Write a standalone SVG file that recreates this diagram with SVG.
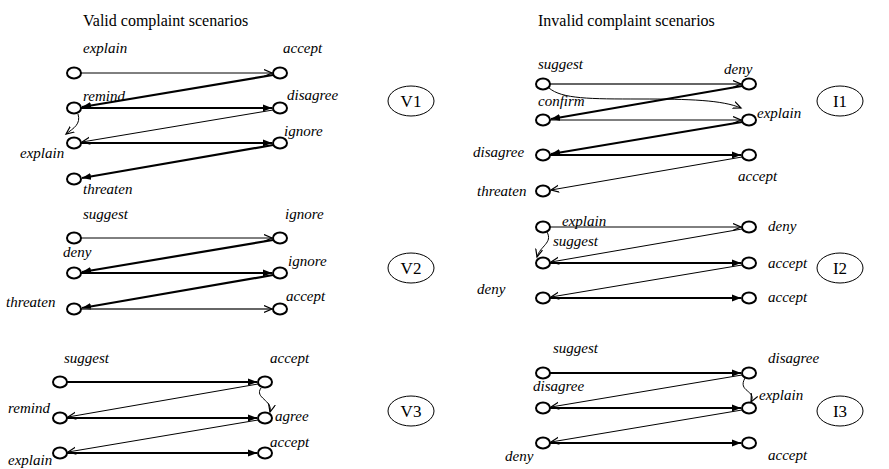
<svg xmlns="http://www.w3.org/2000/svg" width="889" height="469" viewBox="0 0 889 469">
<style>
.t{font-family:"Liberation Serif","Times New Roman",serif;font-size:16px;fill:#000}
.e{font-family:"Liberation Serif","Times New Roman",serif;font-size:17px;fill:#000}
.l{font-family:"Liberation Serif","Times New Roman",serif;font-size:15px;font-style:italic;fill:#000}
.n{fill:#fff;stroke:#000;stroke-width:2}
.el{fill:#fff;stroke:#000;stroke-width:1}
.th{stroke:#000;stroke-width:1;fill:none;marker-end:url(#op)}
.md{stroke:#333;stroke-width:1.5;fill:none;marker-end:url(#op)}
.tk{stroke:#000;stroke-width:2.2;fill:none;marker-end:url(#fi)}
.cv{stroke:#000;stroke-width:1;fill:none;marker-end:url(#op)}
</style>
<defs>
<marker id="op" markerUnits="userSpaceOnUse" markerWidth="10" markerHeight="10" refX="8" refY="4" orient="auto"><path d="M0,0.5 L8,4 L0,7.5" fill="none" stroke="#000" stroke-width="1.2"/></marker>
<marker id="fi" markerUnits="userSpaceOnUse" markerWidth="11" markerHeight="10" refX="9" refY="4" orient="auto"><path d="M0,0.5 L9,4 L0,7.5 z" fill="#000"/></marker>
</defs>
<rect width="889" height="469" fill="#fff"/>
<text class="t" x="83" y="26">Valid complaint scenarios</text>
<text class="t" x="538" y="26">Invalid complaint scenarios</text>

<g id="connectors">
<!-- V1 -->
<line class="th" x1="81" y1="73" x2="272" y2="73"/>
<line class="tk" x1="273" y1="75" x2="82" y2="107"/>
<line class="tk" x1="81" y1="108" x2="272" y2="108"/>
<line class="th" x1="273" y1="110" x2="82" y2="142"/>
<line class="tk" x1="81" y1="143" x2="272" y2="143"/>
<line class="tk" x1="273" y1="145" x2="82" y2="178"/>
<path class="cv" d="M78,114 C81,124 74,128 66,134"/>
<!-- V2 -->
<line class="th" x1="81" y1="238" x2="272" y2="238"/>
<line class="tk" x1="273" y1="240" x2="82" y2="272"/>
<line class="tk" x1="81" y1="273" x2="272" y2="273"/>
<line class="tk" x1="273" y1="275" x2="82" y2="308"/>
<line class="md" x1="81" y1="309" x2="272" y2="309"/>
<!-- V3 -->
<line class="tk" x1="67" y1="382" x2="257" y2="382"/>
<line class="th" x1="258" y1="384" x2="68" y2="417"/>
<line class="tk" x1="67" y1="418" x2="257" y2="418"/>
<line class="th" x1="258" y1="420" x2="68" y2="452"/>
<line class="tk" x1="67" y1="453" x2="257" y2="453"/>
<path class="cv" d="M261,388 C254,398 273,400 270,412"/>
<!-- I1 -->
<line class="md" x1="550" y1="84" x2="741" y2="84"/>
<path class="cv" d="M549,88 C562,99 590,99 640,99 C690,99 722,100 741,108"/>
<line class="tk" x1="742" y1="86" x2="551" y2="119"/>
<line class="th" x1="550" y1="120" x2="741" y2="120"/>
<line class="tk" x1="742" y1="122" x2="551" y2="154"/>
<line class="tk" x1="550" y1="155" x2="741" y2="155"/>
<line class="th" x1="742" y1="157" x2="551" y2="190"/>
<!-- I2 -->
<line class="th" x1="550" y1="227" x2="741" y2="227"/>
<path class="cv" d="M547,232 C553,243 540,246 537,257"/>
<line class="th" x1="742" y1="229" x2="551" y2="262"/>
<line class="tk" x1="550" y1="263" x2="741" y2="263"/>
<line class="th" x1="742" y1="265" x2="551" y2="297"/>
<line class="tk" x1="550" y1="298" x2="741" y2="298"/>
<!-- I3 -->
<line class="tk" x1="550" y1="373" x2="741" y2="373"/>
<line class="th" x1="742" y1="375" x2="551" y2="407"/>
<line class="tk" x1="550" y1="408" x2="741" y2="408"/>
<line class="th" x1="742" y1="410" x2="551" y2="442"/>
<line class="tk" x1="550" y1="443" x2="741" y2="443"/>
<path class="cv" d="M745,378 C737,392 757,390 751,402"/>
</g>

<!-- V1 nodes -->
<g id="v1-explain"><ellipse class="n" cx="74" cy="73" rx="7" ry="5.5"/><text class="l" x="83" y="53">explain</text></g>
<g id="v1-accept"><ellipse class="n" cx="280" cy="73" rx="7" ry="5.5"/><text class="l" x="283" y="53">accept</text></g>
<g id="v1-remind"><ellipse class="n" cx="74" cy="108" rx="7" ry="5.5"/><text class="l" x="83" y="101">remind</text></g>
<g id="v1-disagree"><ellipse class="n" cx="280" cy="108" rx="7" ry="5.5"/><text class="l" x="287" y="100">disagree</text></g>
<g id="v1-explain2"><ellipse class="n" cx="74" cy="143" rx="7" ry="5.5"/><text class="l" x="20" y="158">explain</text></g>
<g id="v1-ignore"><ellipse class="n" cx="280" cy="143" rx="7" ry="5.5"/><text class="l" x="284" y="136">ignore</text></g>
<g id="v1-threaten"><ellipse class="n" cx="74" cy="179" rx="7" ry="5.5"/><text class="l" x="83" y="194">threaten</text></g>
<g id="V1"><ellipse class="el" cx="411" cy="101" rx="23" ry="15"/><text class="e" x="411" y="107" text-anchor="middle">V1</text></g>

<!-- V2 nodes -->
<g id="v2-suggest"><ellipse class="n" cx="74" cy="238" rx="7" ry="5.5"/><text class="l" x="83" y="219">suggest</text></g>
<g id="v2-ignore"><ellipse class="n" cx="280" cy="238" rx="7" ry="5.5"/><text class="l" x="285" y="219">ignore</text></g>
<g id="v2-deny"><ellipse class="n" cx="74" cy="273" rx="7" ry="5.5"/><text class="l" x="63" y="257">deny</text></g>
<g id="v2-ignore2"><ellipse class="n" cx="280" cy="273" rx="7" ry="5.5"/><text class="l" x="288" y="266">ignore</text></g>
<g id="v2-threaten"><ellipse class="n" cx="74" cy="309" rx="7" ry="5.5"/><text class="l" x="6" y="307">threaten</text></g>
<g id="v2-accept"><ellipse class="n" cx="280" cy="309" rx="7" ry="5.5"/><text class="l" x="286" y="301">accept</text></g>
<g id="V2"><ellipse class="el" cx="411" cy="268" rx="23" ry="15"/><text class="e" x="411" y="274" text-anchor="middle">V2</text></g>

<!-- V3 nodes -->
<g id="v3-suggest"><ellipse class="n" cx="60" cy="382" rx="7" ry="5.5"/><text class="l" x="64" y="363">suggest</text></g>
<g id="v3-accept"><ellipse class="n" cx="265" cy="382" rx="7" ry="5.5"/><text class="l" x="270" y="363">accept</text></g>
<g id="v3-remind"><ellipse class="n" cx="60" cy="418" rx="7" ry="5.5"/><text class="l" x="8" y="413">remind</text></g>
<g id="v3-agree"><ellipse class="n" cx="265" cy="418" rx="7" ry="5.5"/><text class="l" x="275" y="421">agree</text></g>
<g id="v3-explain"><ellipse class="n" cx="60" cy="453" rx="7" ry="5.5"/><text class="l" x="8" y="465">explain</text></g>
<g id="v3-accept2"><ellipse class="n" cx="265" cy="453" rx="7" ry="5.5"/><text class="l" x="270" y="447">accept</text></g>
<g id="V3"><ellipse class="el" cx="411" cy="411" rx="23" ry="15"/><text class="e" x="411" y="417" text-anchor="middle">V3</text></g>

<!-- I1 nodes -->
<g id="i1-suggest"><ellipse class="n" cx="543" cy="84" rx="7" ry="5.5"/><text class="l" x="538" y="69">suggest</text></g>
<g id="i1-deny"><ellipse class="n" cx="749" cy="84" rx="7" ry="5.5"/><text class="l" x="724" y="74">deny</text></g>
<g id="i1-confirm"><ellipse class="n" cx="543" cy="120" rx="7" ry="5.5"/><text class="l" x="538" y="106">confirm</text></g>
<g id="i1-explain"><ellipse class="n" cx="749" cy="120" rx="7" ry="5.5"/><text class="l" x="757" y="118">explain</text></g>
<g id="i1-disagree"><ellipse class="n" cx="543" cy="155" rx="7" ry="5.5"/><text class="l" x="473" y="157">disagree</text></g>
<g id="i1-accept"><ellipse class="n" cx="749" cy="155" rx="7" ry="5.5"/><text class="l" x="738" y="181">accept</text></g>
<g id="i1-threaten"><ellipse class="n" cx="543" cy="191" rx="7" ry="5.5"/><text class="l" x="477" y="196">threaten</text></g>
<g id="I1"><ellipse class="el" cx="840" cy="101" rx="23" ry="15"/><text class="e" x="840" y="107" text-anchor="middle">I1</text></g>

<!-- I2 nodes -->
<g id="i2-explain"><ellipse class="n" cx="543" cy="227" rx="7" ry="5.5"/><text class="l" x="562" y="226">explain</text></g>
<g id="i2-deny"><ellipse class="n" cx="749" cy="227" rx="7" ry="5.5"/><text class="l" x="768" y="231">deny</text></g>
<g id="i2-suggest"><ellipse class="n" cx="543" cy="263" rx="7" ry="5.5"/><text class="l" x="553" y="246">suggest</text></g>
<g id="i2-accept"><ellipse class="n" cx="749" cy="263" rx="7" ry="5.5"/><text class="l" x="768" y="268">accept</text></g>
<g id="i2-deny2"><ellipse class="n" cx="543" cy="298" rx="7" ry="5.5"/><text class="l" x="477" y="294">deny</text></g>
<g id="i2-accept2"><ellipse class="n" cx="749" cy="298" rx="7" ry="5.5"/><text class="l" x="768" y="302">accept</text></g>
<g id="I2"><ellipse class="el" cx="840" cy="268" rx="23" ry="15"/><text class="e" x="840" y="274" text-anchor="middle">I2</text></g>

<!-- I3 nodes -->
<g id="i3-suggest"><ellipse class="n" cx="543" cy="373" rx="7" ry="5.5"/><text class="l" x="553" y="353">suggest</text></g>
<g id="i3-disagree"><ellipse class="n" cx="749" cy="373" rx="7" ry="5.5"/><text class="l" x="768" y="363">disagree</text></g>
<g id="i3-disagree2"><ellipse class="n" cx="543" cy="408" rx="7" ry="5.5"/><text class="l" x="533" y="391">disagree</text></g>
<g id="i3-explain"><ellipse class="n" cx="749" cy="408" rx="7" ry="5.5"/><text class="l" x="759" y="400">explain</text></g>
<g id="i3-deny"><ellipse class="n" cx="543" cy="443" rx="7" ry="5.5"/><text class="l" x="505" y="461">deny</text></g>
<g id="i3-accept"><ellipse class="n" cx="749" cy="443" rx="7" ry="5.5"/><text class="l" x="768" y="460">accept</text></g>
<g id="I3"><ellipse class="el" cx="840" cy="411" rx="23" ry="15"/><text class="e" x="840" y="417" text-anchor="middle">I3</text></g>
</svg>
